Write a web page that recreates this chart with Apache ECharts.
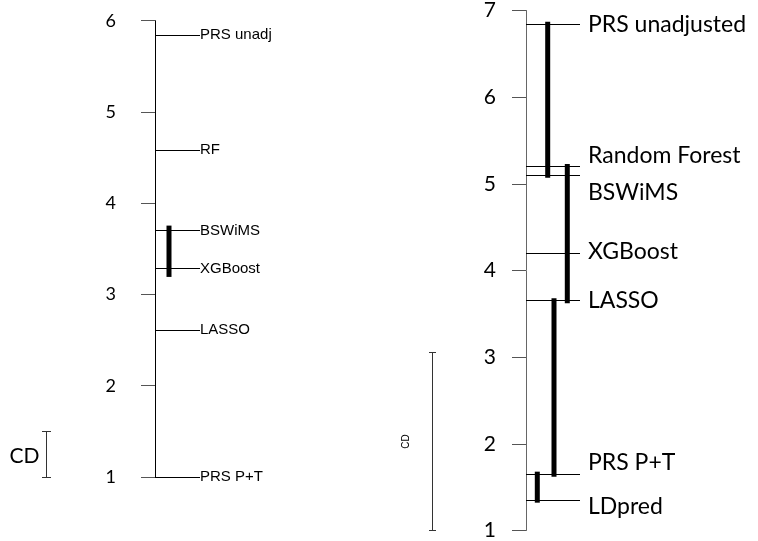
<!DOCTYPE html>
<html><head><meta charset="utf-8">
<script src="https://cdn.jsdelivr.net/npm/echarts@6/dist/echarts.min.js"></script>
<style>html,body{margin:0;padding:0;background:#fff}#c{width:758px;height:541px}</style>
</head><body><div id="c"></div>
<script>
// ---- Data ----
var leftMethods = ["PRS unadj", "RF", "BSWiMS", "XGBoost", "LASSO", "PRS P+T"];
var leftRanks = [5.84, 4.58, 3.70, 3.28, 2.61, 1.00];
var leftCliques = [["BSWiMS", "XGBoost"]];
var leftCD = 0.50;
var leftTicks = [1, 2, 3, 4, 5, 6];

var rightMethods = ["PRS unadjusted", "Random Forest", "BSWiMS", "XGBoost", "LASSO", "PRS P+T", "LDpred"];
var rightRanks = [6.84, 5.20, 5.10, 4.20, 3.65, 1.65, 1.35];
var rightCliques = [["PRS unadjusted", "BSWiMS"], ["Random Forest", "LASSO"], ["LASSO", "PRS P+T"], ["PRS P+T", "LDpred"]];
var rightCD = 2.05;
var rightTicks = [1, 2, 3, 4, 5, 6, 7];

// ---- Styles (pixel offsets, not data) ----
var leftLabelDy = [0, 0, 0, 0, 0, 0];
var rightLabelDy = [0, -11, 17, -2, 0, -12, 6];
var leftCliqueX = [14];
var rightCliqueX = [21.7, 41.3, 28, 11.3];

var chart = echarts.init(document.getElementById('c'));

function crisp(v) { return Math.round(v - 0.5) + 0.5; }

function methodSeries(gridIdx, names, ranks, dys, lineLen, gap, font, fontFamily) {
  return {
    type: 'custom', xAxisIndex: gridIdx, yAxisIndex: gridIdx, clip: false, silent: true,
    data: names.map(function (n, i) { return [0, ranks[i], i]; }),
    renderItem: function (params, api) {
      var i = api.value(2);
      var p = api.coord([0, api.value(1)]);
      var y = crisp(p[1]);
      return {
        type: 'group', children: [
          { type: 'line', shape: { x1: p[0], y1: y, x2: p[0] + lineLen, y2: y }, style: { stroke: '#000', lineWidth: 1 } },
          { type: 'text', x: p[0] + lineLen + gap, y: p[1] + dys[i],
            style: { text: names[i], fill: '#000', font: font + 'px ' + fontFamily, verticalAlign: 'middle', align: 'left' } }
        ]
      };
    }
  };
}

function cliqueSeries(gridIdx, names, ranks, cliques, xs, extTop, extBot) {
  return {
    type: 'custom', xAxisIndex: gridIdx, yAxisIndex: gridIdx, clip: false, silent: true,
    data: cliques.map(function (c, i) {
      return [0, ranks[names.indexOf(c[0])], ranks[names.indexOf(c[1])], i];
    }),
    renderItem: function (params, api) {
      var i = api.value(3);
      var a = api.coord([0, api.value(1)]);
      var b = api.coord([0, api.value(2)]);
      var x = a[0] + xs[i];
      return { type: 'line', shape: { x1: x, y1: a[1] - extTop, x2: x, y2: b[1] + extBot },
        style: { stroke: '#000', lineWidth: 5 } };
    }
  };
}

function cdSeries(gridIdx, cd, dx, cap, textOpt) {
  return {
    type: 'custom', xAxisIndex: gridIdx, yAxisIndex: gridIdx, clip: false, silent: true,
    data: [[0, 1, 1 + cd]],
    renderItem: function (params, api) {
      var a = api.coord([0, api.value(1)]);
      var b = api.coord([0, api.value(2)]);
      var x = crisp(a[0] - dx);
      var y1 = crisp(a[1]), y2 = crisp(b[1]);
      var mid = (y1 + y2) / 2;
      return {
        type: 'group', children: [
          { type: 'line', shape: { x1: x, y1: y1, x2: x, y2: y2 }, style: { stroke: '#333', lineWidth: 1 } },
          { type: 'line', shape: { x1: x - cap, y1: y1, x2: x + cap, y2: y1 }, style: { stroke: '#333', lineWidth: 1 } },
          { type: 'line', shape: { x1: x - cap, y1: y2, x2: x + cap, y2: y2 }, style: { stroke: '#333', lineWidth: 1 } },
          { type: 'text', x: x + textOpt.dx, y: mid + textOpt.dy, rotation: textOpt.rot,
            style: { text: 'CD', fill: '#000', font: textOpt.font, align: 'center', verticalAlign: 'middle' } }
        ]
      };
    }
  };
}

function yAxis(gridIdx, max, ticks, lineColor, tickColor, margin, fontSize) {
  return {
    type: 'value', gridIndex: gridIdx, min: 1, max: max, interval: 1,
    axisLine: { show: true, lineStyle: { color: lineColor, width: 1 } },
    axisTick: { show: true, length: 14, lineStyle: { color: tickColor } },
    splitLine: { show: false },
    axisLabel: { margin: margin, color: '#000', fontFamily: 'Lato', fontSize: fontSize,
      formatter: function (v) { return ticks.indexOf(v) >= 0 ? String(v) : ''; } }
  };
}

chart.setOption({
  animation: false,
  grid: [
    { left: 155, top: 20.7, height: 456.3, width: 100 },
    { left: 526, top: 8, height: 528, width: 100 }
  ],
  xAxis: [
    { type: 'value', gridIndex: 0, min: 0, max: 1, show: false },
    { type: 'value', gridIndex: 1, min: 0, max: 1, show: false }
  ],
  yAxis: [
    yAxis(0, 6, leftTicks, '#000', '#555', 39, 18),
    yAxis(1, 7, rightTicks, '#666', '#555', 30, 21)
  ],
  series: [
    methodSeries(0, leftMethods, leftRanks, leftLabelDy, 45, 0, 15, '"Liberation Sans", Arial'),
    cliqueSeries(0, leftMethods, leftRanks, leftCliques, leftCliqueX, 5, 8),
    cdSeries(0, leftCD, 108.3, 4.5, { dx: -22, dy: 2, rot: 0, font: '21px Lato' }),
    methodSeries(1, rightMethods, rightRanks, rightLabelDy, 54, 8, 23, 'Lato'),
    cliqueSeries(1, rightMethods, rightRanks, rightCliques, rightCliqueX, 2.5, 2.5),
    cdSeries(1, rightCD, 93.3, 3.5, { dx: -26, dy: 0, rot: Math.PI / 2, font: '10px "Liberation Sans", Arial' })
  ]
});
</script>
</body></html>
